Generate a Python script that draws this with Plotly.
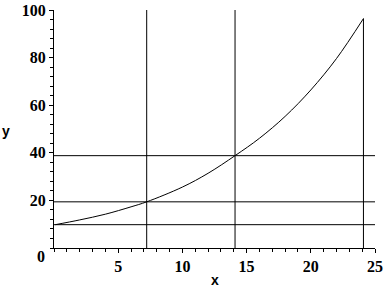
import plotly.graph_objects as go

# Curve values
curve_x = [0.1, 2, 4, 6, 7.22, 10, 12, 14.1, 16, 18, 20, 22, 24.1]
curve_y = [9.8, 11.8, 14.2, 17.3, 19.4, 25.6, 31.4, 38.8, 46.1, 55.3, 66.4, 79.6, 96.4]

# Reference lines
h_levels = [9.8, 19.4, 38.8]
v_positions = [7.22, 14.1, 24.1]
v_tops = [100, 100, 96.4]

x_range = [0, 25]
y_range = [0, 100]
x_ticks = [5, 10, 15, 20, 25]
y_ticks = [20, 40, 60, 80, 100]

fig = go.Figure()
for h in h_levels:
    fig.add_trace(go.Scatter(x=x_range, y=[h, h], mode="lines",
                             line=dict(color="black", width=1), hoverinfo="skip"))
for v, top in zip(v_positions, v_tops):
    fig.add_trace(go.Scatter(x=[v, v], y=[0, top], mode="lines",
                             line=dict(color="black", width=1), hoverinfo="skip"))
fig.add_trace(go.Scatter(x=curve_x, y=curve_y, mode="lines", line_shape="spline",
                         line=dict(color="black", width=1)))

tickfont = dict(family="Liberation Serif", size=16, color="black", weight="bold")
fig.update_layout(
    width=388, height=288,
    margin=dict(l=54, r=13, t=10, b=40, autoexpand=False),
    paper_bgcolor="white", plot_bgcolor="white",
    showlegend=False,
    xaxis=dict(range=x_range, tickvals=x_ticks, showgrid=False, zeroline=False,
               showline=True, linecolor="black", linewidth=1,
               ticks="outside", ticklen=4, tickcolor="black", tickfont=tickfont,
               minor=dict(dtick=1, ticks="outside", ticklen=3, tickcolor="black", showgrid=False)),
    yaxis=dict(range=y_range, tickvals=y_ticks, showgrid=False, zeroline=False,
               showline=True, linecolor="black", linewidth=1,
               ticks="outside", ticklen=4, tickcolor="black", tickfont=tickfont,
               minor=dict(dtick=4, ticks="outside", ticklen=3, tickcolor="black", showgrid=False)),
    annotations=[
        dict(text="0", xref="paper", yref="paper", x=-7/321, y=-8/238, xanchor="right",
             yanchor="middle", showarrow=False, font=tickfont),
        dict(text="x", xref="paper", yref="paper", x=(215-54)/321, y=-(280-248)/238,
             xanchor="center", yanchor="middle", showarrow=False,
             font=dict(family="Liberation Sans", size=14, color="black", weight="bold")),
        dict(text="y", xref="paper", yref="paper", x=(6-54)/321, y=(248-131)/238,
             xanchor="center", yanchor="middle", showarrow=False,
             font=dict(family="Liberation Sans", size=14, color="black", weight="bold")),
    ],
)
fig.write_html("out.html")
